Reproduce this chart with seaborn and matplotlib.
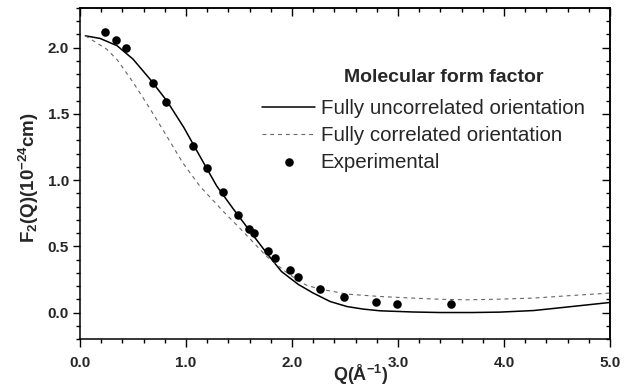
import numpy as np
import pandas as pd
import matplotlib
matplotlib.use("Agg")
import matplotlib.pyplot as plt
from matplotlib.ticker import MultipleLocator, NullFormatter
import seaborn as sns

# ---- data ----
q_uncorr = [0.05, 0.19, 0.35, 0.50, 0.66, 0.82, 0.98, 1.13, 1.29, 1.45, 1.64, 1.76,
            1.90, 2.06, 2.20, 2.36, 2.52, 2.67, 2.83, 3.14, 3.40, 3.70, 3.96, 4.28, 4.59, 5.00]
f_uncorr = [2.09, 2.07, 2.015, 1.914, 1.763, 1.598, 1.397, 1.182, 0.955, 0.778, 0.576, 0.450,
            0.310, 0.212, 0.147, 0.083, 0.045, 0.026, 0.013, 0.004, 0.000, 0.000, 0.003, 0.015, 0.041, 0.076]

q_corr = [0.05, 0.13, 0.25, 0.35, 0.50, 0.66, 0.82, 0.97, 1.13, 1.35, 1.52, 1.76, 1.92,
          2.07, 2.14, 2.26, 2.52, 2.83, 3.14, 3.40, 3.65, 3.96, 4.28, 4.59, 5.00]
f_corr = [2.09, 2.05, 1.99, 1.91, 1.74, 1.54, 1.33, 1.13, 0.955, 0.765, 0.627, 0.424, 0.320,
          0.235, 0.205, 0.178, 0.139, 0.121, 0.109, 0.100, 0.096, 0.101, 0.109, 0.126, 0.147]

q_exp = [0.24, 0.34, 0.43, 0.69, 0.81, 1.07, 1.20, 1.35, 1.49, 1.59, 1.64, 1.77, 1.84,
         1.98, 2.06, 2.26, 2.49, 2.79, 2.99, 3.50]
f_exp = [2.12, 2.06, 2.00, 1.73, 1.59, 1.26, 1.09, 0.91, 0.735, 0.632, 0.599, 0.465, 0.409,
         0.321, 0.266, 0.180, 0.117, 0.079, 0.068, 0.064]

x_ticks = [0.0, 1.0, 2.0, 3.0, 4.0, 5.0]
y_ticks = [0.0, 0.5, 1.0, 1.5, 2.0]
legend_title = "Molecular form factor"

df_u = pd.DataFrame({"Q": q_uncorr, "F": f_uncorr})
df_c = pd.DataFrame({"Q": q_corr, "F": f_corr})
df_e = pd.DataFrame({"Q": q_exp, "F": f_exp})

sns.set_theme(style="ticks")
plt.rcParams["font.family"] = ["Liberation Sans", "DejaVu Sans"]
plt.rcParams["mathtext.fontset"] = "custom"
plt.rcParams["mathtext.rm"] = "Liberation Sans:bold"
plt.rcParams["mathtext.it"] = "Liberation Sans:bold"
plt.rcParams["mathtext.bf"] = "Liberation Sans:bold"

fig = plt.figure(figsize=(6.31, 3.91), dpi=100)
ax = fig.add_axes([80 / 631, 1 - 339 / 391, 530 / 631, 331 / 391])

sns.lineplot(data=df_u, x="Q", y="F", ax=ax, color="black", linewidth=1.1,
             sort=False, estimator=None, label="Fully uncorrelated orientation")
sns.lineplot(data=df_c, x="Q", y="F", ax=ax, color="#666666", linewidth=0.8,
             sort=False, estimator=None, label="Fully correlated orientation")
ax.lines[-1].set_dashes([3.5, 3.5])
sns.scatterplot(data=df_e, x="Q", y="F", ax=ax, color="black", s=38,
                edgecolor="black", linewidth=0, label="Experimental", zorder=5)

ax.set_xlim(0, 5.0)
ax.set_ylim(-0.2, 2.3)
ax.set_xticks(x_ticks)
ax.set_yticks(y_ticks)
ax.set_xticklabels([f"{v:.1f}" for v in x_ticks], fontweight="bold", fontsize=11)
ax.set_yticklabels([f"{v:.1f}" for v in y_ticks], fontweight="bold", fontsize=11)
ax.xaxis.set_minor_locator(MultipleLocator(0.2))
ax.yaxis.set_minor_locator(MultipleLocator(0.1))

for s in ax.spines.values():
    s.set_visible(True)
    s.set_linewidth(1.1)
    s.set_color("black")
ax.tick_params(which="both", top=False, right=False, color="black", width=1.0)
ax.tick_params(axis="x", which="major", direction="out", length=6, pad=6)
ax.tick_params(axis="x", which="minor", direction="out", length=3)
ax.tick_params(axis="y", which="major", direction="out", length=5, pad=3)
ax.tick_params(axis="y", which="minor", direction="out", length=3)

# inward ticks on top and right
top = ax.secondary_xaxis("top")
top.set_xticks(x_ticks)
top.xaxis.set_minor_locator(MultipleLocator(0.2))
top.xaxis.set_major_formatter(NullFormatter())
top.tick_params(which="major", direction="in", length=6, width=1.0, color="black")
top.tick_params(which="minor", direction="in", length=3, width=1.0, color="black")
right = ax.secondary_yaxis("right")
right.set_yticks(y_ticks)
right.yaxis.set_minor_locator(MultipleLocator(0.1))
right.yaxis.set_major_formatter(NullFormatter())
right.tick_params(which="major", direction="in", length=6, width=1.0, color="black")
right.tick_params(which="minor", direction="in", length=3, width=1.0, color="black")
for sec in (top, right):
    for s in sec.spines.values():
        s.set_linewidth(1.1)
        s.set_color("black")

ax.set_xlabel(r"Q($\mathrm{\AA}^{-1}$)", fontsize=13, fontweight="bold")
ax.set_ylabel(r"F$_2$(Q)(10$^{-24}$cm)", fontsize=13.5, fontweight="bold")
ax.xaxis.set_label_coords((361 - 80) / 530, -(375 - 339) / 331)
ax.yaxis.set_label_coords((29 - 80) / 530, (339 - 178) / 331)
ax.xaxis.label.set_va("center")
ax.yaxis.label.set_va("center")

leg = ax.legend(loc="upper left", bbox_to_anchor=((262 - 80) / 530, (339 - 99) / 331),
                frameon=False, fontsize=14.8,
                handlelength=2.6, handletextpad=0.25, labelspacing=0.38,
                borderpad=0, borderaxespad=0)
ax.text((444 - 80) / 530, (339 - 78) / 331, legend_title, transform=ax.transAxes,
        ha="center", va="center", fontsize=14, fontweight="bold")

fig.savefig("out.png", dpi=100)
